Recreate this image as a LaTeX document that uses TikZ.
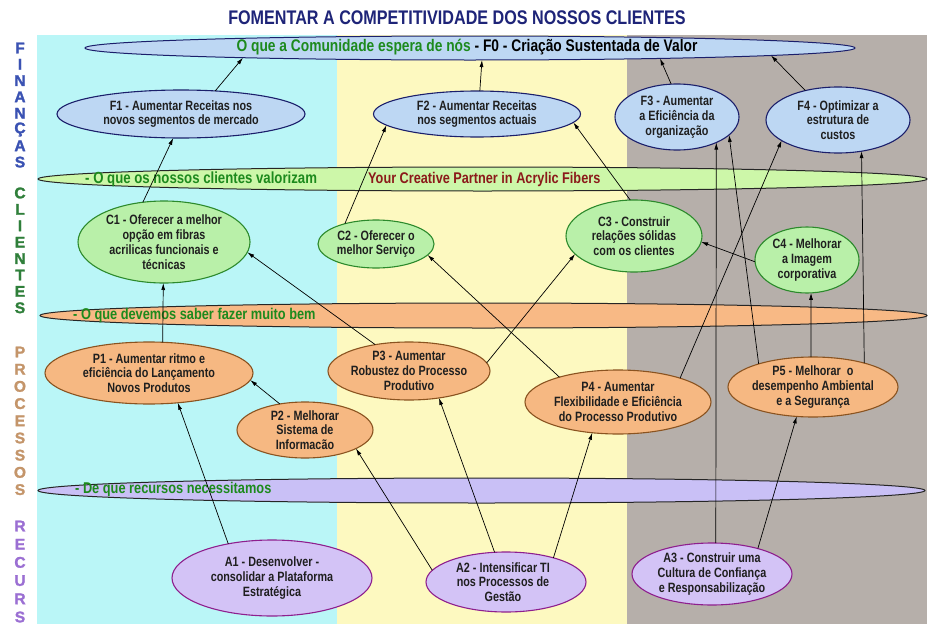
\documentclass[tikz,border=0pt]{standalone}
\usepackage{fontspec}
\setmainfont{Liberation Sans}
\newfontfamily\nar[FakeStretch=0.8]{Liberation Sans}
\newfontfamily\narb[FakeStretch=0.82]{Liberation Sans}
\newfontfamily\heavy[FakeBold=1.6]{Liberation Sans}
\usetikzlibrary{shapes.geometric,arrows.meta}
\definecolor{bgcyan}{HTML}{BAF6F7}
\definecolor{bgyellow}{HTML}{FDF9C0}
\definecolor{bggray}{HTML}{B6AFAA}
\definecolor{ffill}{HTML}{BDD7F3}
\definecolor{fdraw}{HTML}{1B1F6B}
\definecolor{cfill}{HTML}{B9F0A9}
\definecolor{cdraw}{HTML}{2C8A2C}
\definecolor{pfill}{HTML}{F6B882}
\definecolor{pdraw}{HTML}{8A5320}
\definecolor{afill}{HTML}{D3C3F6}
\definecolor{adraw}{HTML}{8E1F8E}
\definecolor{bandc}{HTML}{CDF7A9}
\definecolor{bandp}{HTML}{F8B985}
\definecolor{banda}{HTML}{C9C0F6}
\definecolor{txgreen}{HTML}{1D8A1D}
\definecolor{txred}{HTML}{8B1A1A}
\definecolor{titleblue}{HTML}{1E2478}
\definecolor{lblue}{HTML}{3A52B3}
\definecolor{lgreen}{HTML}{2F7F3A}
\definecolor{ltan}{HTML}{C4956A}
\definecolor{lpurple}{HTML}{9B6FD3}
\tikzset{
 ell/.style={ellipse, inner sep=0pt, outer sep=0pt, line width=1.1pt},
 fnode/.style={ell, draw=fdraw, fill=ffill},
 cnode/.style={ell, draw=cdraw, fill=cfill},
 pnode/.style={ell, draw=pdraw, fill=pfill},
 anode/.style={ell, draw=adraw, fill=afill},
 band/.style={ellipse, inner sep=0pt, outer sep=0pt, draw=black!85, line width=1pt},
 ntext/.style={font=\nar\bfseries\fontsize{13.5}{14.8}\selectfont, align=center, text=black!88, inner sep=0pt},
 bandtext/.style={font=\narb\bfseries\fontsize{15.6}{18}\selectfont, anchor=west, inner sep=0pt},
 lettr/.style={font=\heavy\bfseries\fontsize{15.5}{16}\selectfont, inner sep=0pt},
 conn/.style={-{Latex[length=7pt,width=4pt]}, line width=0.7pt, black},
}
\begin{document}
\begin{tikzpicture}[x=1pt,y=-1pt]
\useasboundingbox (0,0) rectangle (935,624);
\fill[white] (0,0) rectangle (935,624);
\fill[bgcyan] (37,35) rectangle (337,624);
\fill[bgyellow] (337,35) rectangle (627,624);
\fill[bggray] (627,35) rectangle (927,624);

% title
\node[font=\narb\bfseries\fontsize{19.7}{22}\selectfont, text=titleblue, inner sep=0pt] (title) at (457,18) {FOMENTAR A COMPETITIVIDADE DOS NOSSOS CLIENTES};

% left letters
\foreach \ch [count=\i] in {F,I,N,A,N,Ç,A,S}
  \node[lettr, text=lblue] (fin\i) at (20,{48+(\i-1)*16.3}) {\ch};
\foreach \ch [count=\i] in {C,L,I,E,N,T,E,S}
  \node[lettr, text=lgreen] (cli\i) at (20,{193+(\i-1)*16.4}) {\ch};
\foreach \ch [count=\i] in {P,R,O,C,E,S,S,O,S}
  \node[lettr, text=ltan] (pro\i) at (20,{352+(\i-1)*17.2}) {\ch};
\foreach \ch [count=\i] in {R,E,C,U,R,S}
  \node[lettr, text=lpurple] (rec\i) at (20,{526+(\i-1)*18.2}) {\ch};

% bands
\node[band, draw=fdraw, fill=ffill, minimum width=770, minimum height=24] (F0) at (470,48) {};
\node[font=\narb\bfseries\fontsize{16.8}{18}\selectfont, inner sep=0pt] (F0t) at (467,47) {\textcolor{txgreen}{O que a Comunidade espera de nós} - F0 - Criação Sustentada de Valor};
\node[band, fill=bandc, minimum width=889, minimum height=24] (bandC) at (482.5,179) {};
\node[bandtext, text=txgreen, font=\narb\bfseries\fontsize{16.1}{18}\selectfont] (bandCt) at (85,179) {- O que os nossos clientes valorizam};
\node[bandtext, text=txred, font=\narb\bfseries\fontsize{15.5}{18}\selectfont] (bandCr) at (368,179) {Your Creative Partner in Acrylic Fibers};
\node[band, fill=bandp, minimum width=887, minimum height=25] (bandP) at (483.5,315.5) {};
\node[bandtext, text=txgreen] (bandPt) at (73,315) {- O que devemos saber fazer muito bem};
\node[band, fill=banda, minimum width=887, minimum height=25] (bandA) at (481.5,490.5) {};
\node[bandtext, text=txgreen] (bandAt) at (75,489) {- De que recursos necessitamos};

% F nodes
\node[fnode, minimum width=248, minimum height=48] (F1) at (181,114) {};
\node[ntext] (F1t) at (F1) {F1 - Aumentar Receitas nos\\novos segmentos de mercado};
\node[fnode, minimum width=207, minimum height=46] (F2) at (477,114) {};
\node[ntext] (F2t) at (F2) {F2 - Aumentar Receitas\\nos segmentos actuais};
\node[fnode, minimum width=124, minimum height=66] (F3) at (677,117) {};
\node[ntext] (F3t) at (F3) {F3 - Aumentar\\a Eficiência da\\organização};
\node[fnode, minimum width=144, minimum height=66] (F4) at (838,120) {};
\node[ntext] (F4t) at (F4) {F4 - Optimizar a\\estrutura de\\custos};

% C nodes
\node[cnode, minimum width=172, minimum height=82] (C1) at (164,242) {};
\node[ntext] (C1t) at (C1) {C1 - Oferecer a melhor\\opção em fibras\\acrilicas funcionais e\\técnicas};
\node[cnode, minimum width=116, minimum height=48] (C2) at (376,244) {};
\node[ntext] (C2t) at (C2) {C2 - Oferecer o\\melhor Serviço};
\node[cnode, minimum width=136, minimum height=72] (C3) at (634,236) {};
\node[ntext] (C3t) at (C3) {C3 - Construir\\relações sólidas\\com os clientes};
\node[cnode, minimum width=104, minimum height=66] (C4) at (807,260) {};
\node[ntext] (C4t) at (C4) {C4 - Melhorar\\a Imagem\\corporativa};

% P nodes
\node[pnode, minimum width=208, minimum height=62] (P1) at (149,373) {};
\node[ntext] (P1t) at (P1) {P1 - Aumentar ritmo e\\eficiência do Lançamento\\Novos Produtos};
\node[pnode, minimum width=136, minimum height=56] (P2) at (305,430) {};
\node[ntext] (P2t) at (P2) {P2 - Melhorar\\Sistema de\\Informacão};
\node[pnode, minimum width=162, minimum height=58] (P3) at (409,371) {};
\node[ntext] (P3t) at (P3) {P3 - Aumentar\\Robustez do Processo\\Produtivo};
\node[pnode, minimum width=186, minimum height=64] (P4) at (618,402) {};
\node[ntext] (P4t) at (P4) {P4 - Aumentar\\Flexibilidade e Eficiência\\do Processo Produtivo};
\node[pnode, minimum width=170, minimum height=60] (P5) at (813,387) {};
\node[ntext] (P5t) at (P5) {P5 - Melhorar\ \ o\\desempenho Ambiental\\e a Segurança};

% A nodes
\node[anode, minimum width=200, minimum height=76] (A1) at (272,578) {};
\node[ntext] (A1t) at (A1) {A1 - Desenvolver -\\consolidar a Plataforma\\Estratégica};
\node[anode, minimum width=160, minimum height=60] (A2) at (506,582) {};
\node[ntext] (A2t) at (503,582) {A2 - Intensificar TI\\nos Processos de\\Gestão};
\node[anode, minimum width=160, minimum height=62] (A3) at (712,574) {};
\node[ntext] (A3t) at (A3) {A3 - Construir uma\\Cultura de Confiança\\e Responsabilização};

% connectors
\draw[conn] (F1.34) -- ([xshift=-227pt,yshift=-9.7pt]F0.center);
\draw[conn] (F2.83) -- (F0.315);
\draw[conn] (F3.100) -- ([xshift=190pt,yshift=-10.4pt]F0.center);
\draw[conn] (F4.138) -- ([xshift=301pt,yshift=-7.5pt]F0.center);
\draw[conn] (C1.118) -- (F1.252);
\draw[conn] (C2.147) -- (F2.187);
\draw[conn] (C3.96) -- (F2.355);
\draw[conn] (C4.182) -- (C3.355);
\draw[conn] (P1.66) -- (C1.269);
\draw[conn] (P3.142) -- (C1.353);
\draw[conn] (P4.157) -- (C2.348);
\draw[conn] (P3.6) -- (C3.197);
\draw[conn] (P4.21) -- (F4.200);
\draw[conn] (A3.83) -- (F3.327);
\draw[conn] (P5.157) -- (F3.341);
\draw[conn] (P5.94) -- (C4.277);
\draw[conn] (P5.25) -- (F4.307);
\draw[conn] (P2.134) -- (P1.356);
\draw[conn] (A1.142) -- (P1.314);
\draw[conn] (A2.171) -- (P2.340);
\draw[conn] (A2.111) -- (P3.318);
\draw[conn] (A2.27) -- (P4.230);
\draw[conn] (A3.29) -- (P5.241);
\end{tikzpicture}
\end{document}
